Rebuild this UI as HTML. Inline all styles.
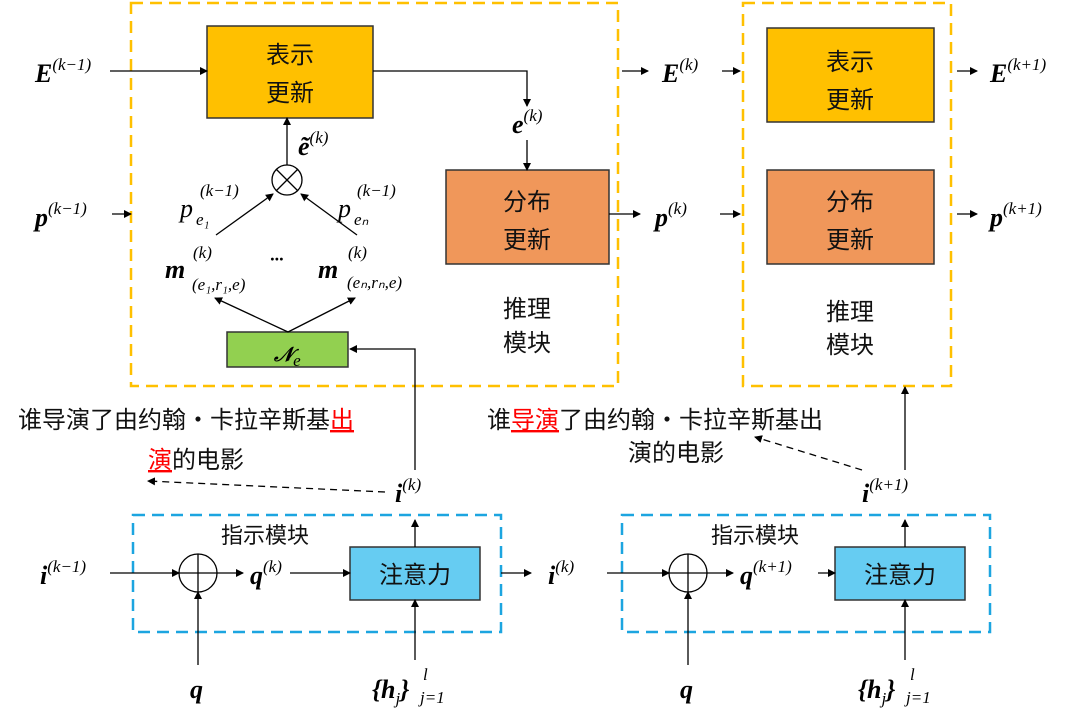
<!DOCTYPE html>
<html><head><meta charset="utf-8"><style>
body{margin:0;background:#fff}
svg{display:block}
.m{font-family:"Liberation Serif",serif;font-style:italic;font-weight:bold;font-size:26px}
.s{font-family:"Liberation Serif",serif;font-style:italic;font-size:17px;font-weight:normal}
.c{font-family:"Liberation Sans","Noto Sans CJK SC",sans-serif;font-size:24px}
</style></head><body>
<svg width="1080" height="717" viewBox="0 0 1080 717" xmlns="http://www.w3.org/2000/svg">
<defs><marker id="a" markerWidth="8" markerHeight="8" refX="7" refY="4" orient="auto" markerUnits="userSpaceOnUse"><path d="M0,0L8,4L0,8z" fill="#000"/></marker></defs>
<g fill="none" stroke-width="2.5" stroke-dasharray="12,7">
<rect x="131" y="3" width="487" height="383" stroke="#FFC000"/>
<rect x="743" y="3" width="208" height="383" stroke="#FFC000"/>
<rect x="133" y="515" width="368" height="117" stroke="#1CA5E0"/>
<rect x="622" y="515" width="368" height="117" stroke="#1CA5E0"/>
</g>
<g stroke="#333" stroke-width="1.5">
<rect x="207" y="26" width="166" height="92" fill="#FFC000"/>
<rect x="767" y="28" width="167" height="94" fill="#FFC000"/>
<rect x="446" y="170" width="163" height="94" fill="#F0975A"/>
<rect x="767" y="170" width="167" height="94" fill="#F0975A"/>
<rect x="227" y="332" width="121" height="35" fill="#92D050"/>
<rect x="350" y="547" width="130" height="53" fill="#66CCF2"/>
<rect x="835" y="547" width="130" height="53" fill="#66CCF2"/>
</g>
<g stroke="#000" stroke-width="1.3" fill="none" marker-end="url(#a)">
<path d="M110,71H207"/><path d="M112,214H131"/>
<path d="M373,71H527V106"/><path d="M527,140V170"/>
<path d="M287,165V118"/>
<path d="M216,235L273,194"/><path d="M357,235L301,194"/>
<path d="M288,332L215,298"/><path d="M288,332L355,298"/>
<path d="M415,470V349H350"/>
<path d="M622,71H648"/><path d="M722,71H740"/>
<path d="M609,214H640"/><path d="M720,214H740"/>
<path d="M957,71H977"/><path d="M957,214H977"/>
<path d="M905,470V387"/>
<path d="M110,573H179"/><path d="M217,573H243"/><path d="M290,573H350"/>
<path d="M198,665V592"/><path d="M415,660V600"/><path d="M415,547V520"/>
<path d="M501,573H531"/><path d="M607,573H669"/><path d="M707,573H733"/><path d="M818,573H835"/>
<path d="M688,665V592"/><path d="M905,660V600"/><path d="M905,547V520"/>
<path d="M385,492L148,481" stroke-dasharray="7,5"/>
<path d="M862,470L755,437" stroke-dasharray="7,5"/>
</g>
<g stroke="#000" stroke-width="1.3" fill="none">
<circle cx="287" cy="180" r="15"/><path d="M276,169L298,191M298,169L276,191"/>
<circle cx="198" cy="573" r="19"/><path d="M179,573H217M198,554V592"/>
<circle cx="688" cy="573" r="19"/><path d="M669,573H707M688,554V592"/>
</g>
<g class="c" text-anchor="middle" fill="#111">
<text x="290" y="63">表示</text><text x="290" y="101">更新</text>
<text x="850" y="70">表示</text><text x="850" y="108">更新</text>
<text x="527" y="210">分布</text><text x="527" y="248">更新</text>
<text x="850" y="210">分布</text><text x="850" y="248">更新</text>
<text x="527" y="317">推理</text><text x="527" y="351">模块</text>
<text x="850" y="320">推理</text><text x="850" y="353">模块</text>
<text x="415" y="583">注意力</text><text x="900" y="583">注意力</text>
<text x="265" y="543" font-size="22">指示模块</text><text x="755" y="543" font-size="22">指示模块</text>
</g>
<g class="c" fill="#111" font-size="23">
<text x="18" y="428">谁导演了由约翰・卡拉辛斯基<tspan fill="#F00" text-decoration="underline">出</tspan></text>
<text x="148" y="468"><tspan fill="#F00" text-decoration="underline">演</tspan>的电影</text>
<text x="487" y="428">谁<tspan fill="#F00" text-decoration="underline">导演</tspan>了由约翰・卡拉辛斯基出</text>
<text x="628" y="461">演的电影</text>
</g>
<g class="m" fill="#000">
<text x="35" y="82">E<tspan class="s" dy="-12">(k−1)</tspan></text>
<text x="35" y="226">p<tspan class="s" dy="-12">(k−1)</tspan></text>
<text x="512" y="133">e<tspan class="s" dy="-12">(k)</tspan></text>
<text x="298" y="155">ẽ<tspan class="s" dy="-12">(k)</tspan></text>
<text x="180" y="217" font-weight="normal">p</text><text class="s" x="200" y="196">(k−1)</text><text class="s" x="196" y="225" font-size="14">e₁</text>
<text x="338" y="217" font-weight="normal">p</text><text class="s" x="357" y="196">(k−1)</text><text class="s" x="354" y="225" font-size="14">eₙ</text>
<text x="165" y="278">m</text><text class="s" x="193" y="258">(k)</text><text class="s" x="192" y="290">(e₁,r₁,e)</text>
<text x="270" y="265" font-size="18">···</text>
<text x="318" y="278">m</text><text class="s" x="348" y="258">(k)</text><text class="s" x="347" y="288">(eₙ,rₙ,e)</text>
<text x="274" y="361" font-size="20">𝒩<tspan class="s" font-size="15" dy="5">e</tspan></text>
<text x="662" y="82">E<tspan class="s" dy="-12">(k)</tspan></text>
<text x="655" y="226">p<tspan class="s" dy="-12">(k)</tspan></text>
<text x="990" y="82">E<tspan class="s" dy="-12">(k+1)</tspan></text>
<text x="990" y="226">p<tspan class="s" dy="-12">(k+1)</tspan></text>
<text x="395" y="502">i<tspan class="s" dy="-12">(k)</tspan></text>
<text x="862" y="502">i<tspan class="s" dy="-12">(k+1)</tspan></text>
<text x="40" y="584">i<tspan class="s" dy="-12">(k−1)</tspan></text>
<text x="250" y="584">q<tspan class="s" dy="-12">(k)</tspan></text>
<text x="548" y="584">i<tspan class="s" dy="-12">(k)</tspan></text>
<text x="740" y="584">q<tspan class="s" dy="-12">(k+1)</tspan></text>
<text x="190" y="698">q</text><text x="680" y="698">q</text>
<text x="372" y="698">{h<tspan class="s" dy="6" font-size="15">j</tspan><tspan dy="-6">}</tspan></text><text class="s" x="423" y="680" font-size="15">l</text><text class="s" x="420" y="703" font-size="15" font-weight="bold">j=1</text>
<text x="858" y="698">{h<tspan class="s" dy="6" font-size="15">j</tspan><tspan dy="-6">}</tspan></text><text class="s" x="910" y="680" font-size="15">l</text><text class="s" x="906" y="703" font-size="15" font-weight="bold">j=1</text>
</g>
</svg>
</body></html>
